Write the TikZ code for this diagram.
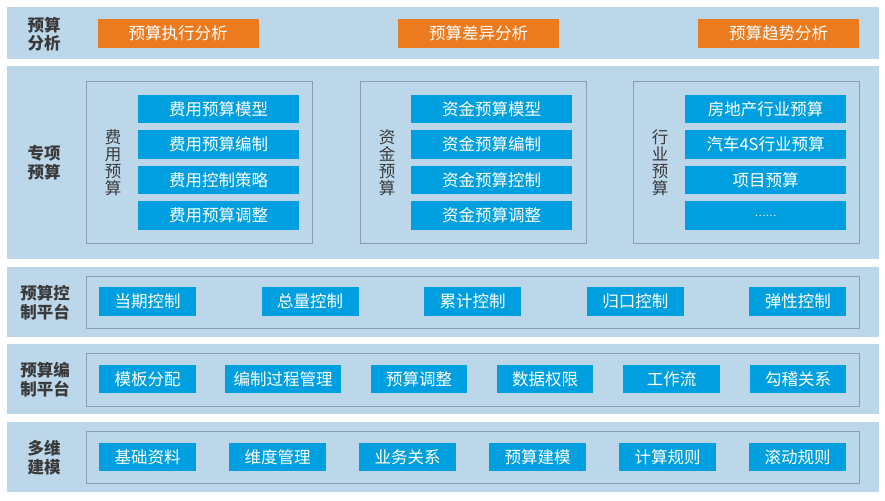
\documentclass[tikz,border=0pt]{standalone}
\usepackage{fontspec}
\setmainfont{Noto Sans CJK SC}
\usepackage{tikz}
\definecolor{bandblue}{HTML}{BDD7EA}
\definecolor{itemblue}{HTML}{00A0E0}
\definecolor{hotorange}{HTML}{EC7A1E}
\definecolor{framegray}{HTML}{8E9DAA}
\definecolor{labelgray}{HTML}{3A3A3A}

\begin{document}
\begin{tikzpicture}[x=1pt,y=-1pt,
      layer/.style={fill=bandblue, minimum width=872pt, inner sep=0pt},
      caption/.style={text=labelgray, font=\bfseries\fontsize{16.5}{18.5}\selectfont, align=center},
      group/.style={draw=framegray, line width=0.9pt, minimum width=226pt, minimum height=162pt, inner sep=0pt},
      row/.style={draw=framegray, line width=0.9pt, minimum width=773pt, minimum height=52pt, inner sep=0pt},
      item/.style={fill=itemblue, text=white, font=\fontsize{16.5}{18}\selectfont, minimum height=28.5pt, inner sep=0pt},
      hot/.style={fill=hotorange, text=white, font=\fontsize{16.5}{18}\selectfont, minimum width=161pt, minimum height=29pt, inner sep=0pt},
      vtext/.style={text=labelgray, font=\fontsize{16.5}{17}\selectfont, align=center}]
  \useasboundingbox[fill=white] (0,0) rectangle (885,500);

  % layers
  \node[layer, minimum height=52pt] (analysis) at (443,33) {};
  \node[layer, minimum height=193pt] (special) at (443,162.5) {};
  \node[layer, minimum height=70pt] (control) at (443,302) {};
  \node[layer, minimum height=70pt] (compile) at (443,379) {};
  \node[layer, minimum height=70pt] (model) at (443,457) {};

  \node[caption] (analysisT) at (44,34) {预算\\分析};
  \node[caption] (specialT) at (44,162.5) {专项\\预算};
  \node[caption] (controlT) at (45,302.5) {预算控\\制平台};
  \node[caption] (compileT) at (45,379.5) {预算编\\制平台};
  \node[caption] (modelT) at (44,457.5) {多维\\建模};

  % analysis
  \node[hot] (exec) at (178,33.5) {预算执行分析};
  \node[hot] (diff) at (478.5,33.5) {预算差异分析};
  \node[hot] (trend) at (778.5,33.5) {预算趋势分析};

  % special budgets
  \node[group] (cost) at (199,162) {};
  \node[group] (fund) at (473,162) {};
  \node[group] (trade) at (746,162) {};
  \node[vtext] (costT) at (113,163) {费\\用\\预\\算};
  \node[vtext] (fundT) at (387,163) {资\\金\\预\\算};
  \node[vtext] (tradeT) at (660,163) {行\\业\\预\\算};
  \foreach \t [count=\i] in {费用预算模型,费用预算编制,费用控制策略,费用预算调整}
    \node[item, minimum width=161pt] (cost\i) at (218.5,{109+35.5*(\i-1)}) {\t};
  \foreach \t [count=\i] in {资金预算模型,资金预算编制,资金预算控制,资金预算调整}
    \node[item, minimum width=161pt] (fund\i) at (491.5,{109+35.5*(\i-1)}) {\t};
  \foreach \t [count=\i] in {房地产行业预算,汽车4S行业预算,项目预算,{\fontsize{10}{10}\selectfont ……}}
    \node[item, minimum width=161pt] (trade\i) at (765.5,{109+35.5*(\i-1)}) {\t};

  % control platform
  \node[row] (controlR) at (472.5,302) {};
  \foreach \t [count=\i] in {当期控制,总量控制,累计控制,归口控制,弹性控制}
    \node[item, minimum width=97pt] (ctl\i) at ({147.5+162.6*(\i-1)},301.5) {\t};

  % compile platform
  \node[row, minimum height=53pt] (compileR) at (472.5,379.5) {};
  \foreach \t/\x/\w [count=\i] in {模板分配/147.5/97,编制过程管理/283/116,预算调整/419/96,数据权限/545/96,工作流/671.5/97,勾稽关系/798/96}
    \node[item, minimum width=\w pt] (cmp\i) at (\x,379) {\t};

  % modelling
  \node[row] (modelR) at (472.5,457) {};
  \foreach \t [count=\i] in {基础资料,维度管理,业务关系,预算建模,计算规则,滚动规则}
    \node[item, minimum width=97pt] (mdl\i) at ({147.5+130*(\i-1)},457) {\t};
\end{tikzpicture}
\end{document}
